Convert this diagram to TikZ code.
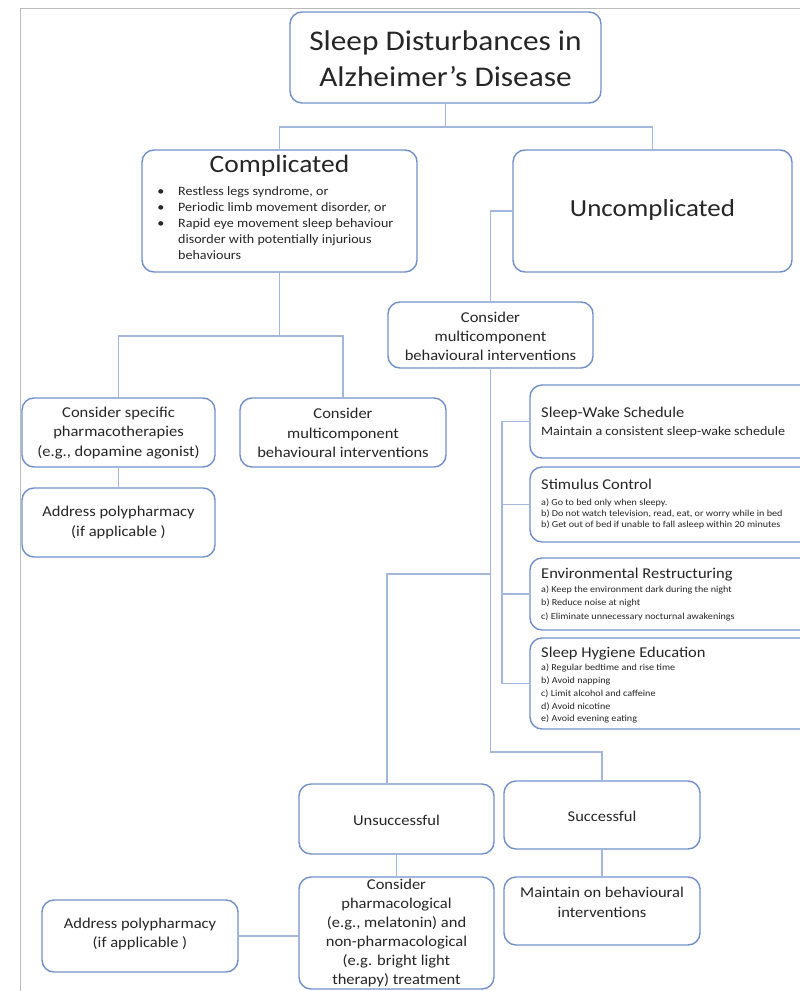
\documentclass[tikz,border=0pt]{standalone}
\usepackage{fontspec}
\setmainfont{Carlito}[FakeStretch=1.1]
\usetikzlibrary{calc}
\definecolor{bcol}{HTML}{7290C8}
\definecolor{lcol}{HTML}{A3B7DD}
\definecolor{txt}{HTML}{262626}
\definecolor{frm}{HTML}{BBBBBB}
\newcommand{\fsz}[2]{\fontsize{#1}{#2}\selectfont}
\newcommand{\mkbox}[5]{\node[box, minimum width=#4pt, minimum height=#5pt] (#1) at (#2,#3) {};}
\begin{document}
\begin{tikzpicture}[x=1pt,y=-1pt,
  box/.style={draw=bcol, line width=1.4pt, rounded corners=12pt, fill=white, inner sep=0pt},
  conn/.style={draw=lcol, line width=1.4pt},
  lbl/.style={text=txt, inner sep=0pt, align=center},
  itm/.style={text=txt, inner sep=0pt, anchor=base west, font=\fsz{9.2}{11}},
  rtitle/.style={text=txt, inner sep=0pt, anchor=base west, font=\fsz{15}{18}},
  bul/.style={text=txt, inner sep=0pt, font=\fsz{12.8}{16}},
  ]
\clip (0,0) rectangle (800,991);
\fill[white] (0,0) rectangle (800,991);
\draw[frm, line width=1.5pt] (20.5,991) -- (20.5,8.5) -- (800,8.5);

% boxes
\mkbox{title}{445.5}{57.5}{311}{91}
\mkbox{comp}{279.5}{211}{275}{122}
\mkbox{uncomp}{652.5}{211}{279}{122}
\mkbox{pharm}{118.5}{432.5}{193}{69}
\mkbox{cmbl}{343}{432.5}{206}{69}
\mkbox{polya}{118.5}{522.5}{193}{69}
\mkbox{cmbr}{490.5}{335}{205}{66}
\mkbox{sw}{680}{421.5}{300}{73}
\mkbox{sc}{680}{504.5}{300}{75}
\mkbox{er}{680}{594}{300}{72}
\mkbox{she}{680}{683.5}{300}{91}
\mkbox{unsucc}{396.5}{819}{195}{70}
\mkbox{succ}{602}{815}{196}{68}
\mkbox{pnp}{396.5}{933}{195}{112}
\mkbox{maint}{602}{911}{196}{68}
\mkbox{polyb}{140}{936}{196}{72}

% connectors
\coordinate (j1) at (445.5,127);
\draw[conn] (title.south) -- (j1);
\draw[conn] (comp.north) |- (j1) -| (uncomp.north);
\coordinate (j2) at (279.5,336);
\draw[conn] (comp.south) -- (j2);
\draw[conn] (pharm.north) |- (j2) -| (cmbl.north);
\draw[conn] (pharm.south) -- (polya.north);
\draw[conn] (uncomp.west) -| (cmbr.north);
\coordinate (j3) at (490.5,752);
\draw[conn] (cmbr.south) -- (j3) -| (succ.north);
\coordinate (j4) at (490.5,574);
\coordinate (j5) at (387,574);
\draw[conn] (j4) -- (j5) -- (j5 |- unsucc.north);
\draw[conn] (unsucc.south) -- (pnp.north);
\draw[conn] (succ.south) -- (maint.north);
\draw[conn] (polyb.east) -- (polyb.east -| pnp.west);
\coordinate (sp) at (502,0);
\draw[conn] (sw.west) -- (sw.west -| sp) -- (she.west -| sp) -- (she.west);
\draw[conn] (sc.west) -- (sc.west -| sp);
\draw[conn] (er.west) -- (er.west -| sp);

% texts
\node[lbl, font=\fsz{28.5}{36}] (ttitle) at (445.5,59) {Sleep Disturbances in\\Alzheimer’s Disease};
\node[lbl, font=\fsz{25}{30}] (tcomp) at (279.5,166) {Complicated};
\foreach \yy/\t [count=\i] in {195/{Restless legs syndrome, or}, 211/{Periodic limb movement disorder, or}, 227/{Rapid eye movement sleep behaviour}}{
  \node[bul, anchor=base] (cb\i) at (161,\yy) {•};
  \node[bul, anchor=base west] (ct\i) at (178,\yy) {\t};
}
\node[bul, anchor=base west] (ct4) at (178,243) {disorder with potentially injurious};
\node[bul, anchor=base west] (ct5) at (178,259) {behaviours};
\node[lbl, font=\fsz{24.5}{30}] (tunc) at (652.5,210) {Uncomplicated};

\node[lbl, font=\fsz{15}{19.5}] (tpharm) at (118.5,433) {Consider specific\\pharmacotherapies\\(e.g., dopamine agonist)};
\node[lbl, font=\fsz{15}{19.5}] (tcmbl) at (343,433) {Consider\\multicomponent\\behavioural interventions};
\node[lbl, font=\fsz{15}{20}] (tpolya) at (118.5,522) {Address polypharmacy\\(if applicable )};
\node[lbl, font=\fsz{15}{19}] (tcmbr) at (490.5,336) {Consider\\multicomponent\\behavioural interventions};
\node[lbl, font=\fsz{15}{19}] (tunsucc) at (396.5,820) {Unsuccessful};
\node[lbl, font=\fsz{15}{19}] (tsucc) at (602,816) {Successful};
\node[lbl, font=\fsz{15}{19}] (tpnp) at (396.5,933) {Consider\\pharmacological\\(e.g., melatonin) and\\non-pharmacological\\(e.g. bright light\\therapy) treatment};
\node[lbl, font=\fsz{15}{20}] (tmaint) at (602,902) {Maintain on behavioural\\interventions};
\node[lbl, font=\fsz{15}{18.5}] (tpolyb) at (140,934) {Address polypharmacy\\(if applicable )};

% right boxes
\node[rtitle] (swt) at (541,417.5) {Sleep-Wake Schedule};
\node[itm, font=\fsz{12.8}{15}] (sw1) at (541,435.8) {Maintain a consistent sleep-wake schedule};

\node[rtitle] (sct) at (541,489.5) {Stimulus Control};
\foreach \yy/\t [count=\i] in {505.5/{a) Go to bed only when sleepy.}, 516.8/{b) Do not watch television, read, eat, or worry while in bed}, 527.8/{b) Get out of bed if unable to fall asleep within 20 minutes}}{
  \node[itm] (sc\i) at (541,\yy) {\t};
}
\node[rtitle] (ert) at (541,578.5) {Environmental Restructuring};
\foreach \yy/\t [count=\i] in {592.8/{a) Keep the environment dark during the night}, 605.8/{b) Reduce noise at night}, 619.5/{c) Eliminate unnecessary nocturnal awakenings}}{
  \node[itm] (er\i) at (541,\yy) {\t};
}
\node[rtitle] (shet) at (541,657.5) {Sleep Hygiene Education};
\foreach \yy/\t [count=\i] in {670.8/{a) Regular bedtime and rise time}, 683.8/{b) Avoid napping}, 696.8/{c) Limit alcohol and caffeine}, 709.8/{d) Avoid nicotine}, 721.8/{e) Avoid evening eating}}{
  \node[itm] (she\i) at (541,\yy) {\t};
}
\end{tikzpicture}
\end{document}
